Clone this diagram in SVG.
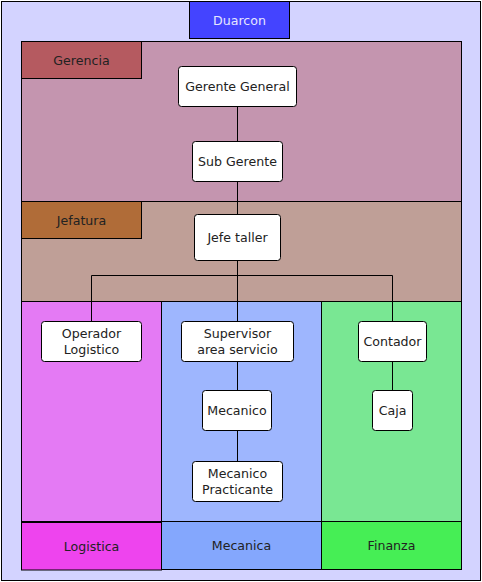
<svg xmlns="http://www.w3.org/2000/svg" width="482" height="582" viewBox="0 0 482 582">
<style>
text{font-family:"DejaVu Sans","Liberation Sans",sans-serif;font-size:12.6px;fill:#222;text-anchor:middle;dominant-baseline:central}
.b{stroke:#000;stroke-width:1}
.n rect{fill:#fff;stroke:#000;stroke-width:1}
.c{stroke:#000;stroke-width:1;fill:none}
</style>
<rect x="1.5" y="1.5" width="479" height="579" fill="#d3d3ff" class="b"/>
<g id="duarcon"><rect x="189.5" y="1.5" width="100" height="37" fill="#4444ff" class="b"/><text x="239.5" y="20" style="fill:#e6e6ff">Duarcon</text></g>
<g id="lane-gerencia"><rect x="21.5" y="41.5" width="440" height="160" fill="#c495af" class="b"/><rect x="21.5" y="41.5" width="120" height="37" fill="#b55a60" class="b"/><text x="81.5" y="60">Gerencia</text></g>
<g id="lane-jefatura"><rect x="21.5" y="201.5" width="440" height="100" fill="#bf9f97" class="b"/><rect x="21.5" y="201.5" width="120" height="37" fill="#b06c38" class="b"/><text x="81.5" y="220">Jefatura</text></g>
<g id="lane-logistica"><rect x="21.5" y="301.5" width="140" height="220" fill="#e47af4" class="b"/><rect x="21.5" y="522.5" width="140" height="47.5" fill="#ee44ee" class="b"/><text x="91.5" y="546">Logistica</text></g>
<g id="lane-mecanica"><rect x="161.5" y="301.5" width="160" height="220" fill="#9eb6fe" class="b"/><rect x="161.5" y="521.5" width="160" height="48" fill="#84a7fd" class="b"/><text x="241.5" y="545.5">Mecanica</text></g>
<g id="lane-finanza"><rect x="321.5" y="301.5" width="140" height="220" fill="#79e793" class="b"/><rect x="321.5" y="521.5" width="140" height="48" fill="#46ee55" class="b"/><text x="391.5" y="545.5">Finanza</text></g>
<g id="connectors">
<path class="c" d="M237.5 106.5V141.5M237.5 181.5V214.5M237.5 260.5V321.5M91.5 321.5V275.5H392.5V321.5M237.5 361.5V390.5M237.5 430.5V461.5M392.5 361.5V390.5"/>
</g>
<g id="gerente-general" class="n"><rect x="178.5" y="66.5" width="118" height="40" rx="3"/><text x="237.5" y="86">Gerente General</text></g>
<g id="sub-gerente" class="n"><rect x="192.5" y="141.5" width="90" height="40" rx="3"/><text x="237.5" y="161">Sub Gerente</text></g>
<g id="jefe-taller" class="n"><rect x="194.5" y="214.5" width="86" height="46" rx="3"/><text x="237.5" y="237">Jefe taller</text></g>
<g id="operador-logistico" class="n"><rect x="41.5" y="321.5" width="100" height="40" rx="3"/><text x="91.5" y="333.5">Operador</text><text x="91.5" y="349.5">Logistico</text></g>
<g id="supervisor" class="n"><rect x="181.5" y="321.5" width="112" height="40" rx="3"/><text x="237.5" y="333.5">Supervisor</text><text x="237.5" y="349.5">area servicio</text></g>
<g id="contador" class="n"><rect x="358.5" y="321.5" width="68" height="40" rx="3"/><text x="392.5" y="341">Contador</text></g>
<g id="mecanico" class="n"><rect x="202.5" y="390.5" width="69" height="40" rx="3"/><text x="237" y="410">Mecanico</text></g>
<g id="caja" class="n"><rect x="372.5" y="390.5" width="40" height="40" rx="3"/><text x="392.5" y="410">Caja</text></g>
<g id="mecanico-practicante" class="n"><rect x="192.5" y="461.5" width="90" height="40" rx="3"/><text x="237.5" y="473.5">Mecanico</text><text x="237.5" y="489.5">Practicante</text></g>
</svg>
